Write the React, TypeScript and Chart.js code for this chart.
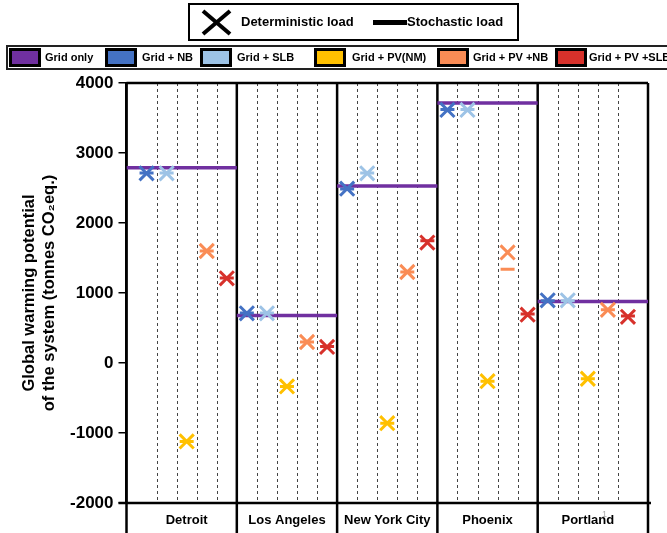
import React, { useEffect, useRef } from 'react';
import { Chart, registerables } from 'chart.js';

Chart.register(...registerables);

const cities = ['Detroit', 'Los Angeles', 'New York City', 'Phoenix', 'Portland'];
const yTickValues = [-2000, -1000, 0, 1000, 2000, 3000, 4000];

// Grid only (stochastic load, drawn as a line across each city)
const gridOnlyStochastic = [2790, 680, 2530, 3715, 880];

// Deterministic load (X markers)
const nbDeterministic = [2710, 710, 2490, 3615, 895];
const slbDeterministic = [2710, 710, 2710, 3615, 895];
const pvDeterministic = [-1120, -335, -860, -260, -225];
const pvNbDeterministic = [1600, 300, 1300, 1580, 760];
const pvSlbDeterministic = [1210, 230, 1720, 690, 660];

// Stochastic load (short bars)
const nbStochastic = [2715, 715, 2485, 3620, 890];
const slbStochastic = [2715, 715, 2715, 3620, 890];
const pvStochastic = [-1120, -335, -860, -260, -225];
const pvNbStochastic = [1600, 300, 1300, 1340, 760];
const pvSlbStochastic = [1215, 235, 1745, 700, 670];

const seriesNames = ['Grid + NB', 'Grid + SLB', 'Grid + PV(NM)', 'Grid + PV +NB', 'Grid + PV +SLB'];
const seriesColors = ['#4472C4', '#9DC3E6', '#FFC000', '#FA8C55', '#D7312B'];
const gridOnlyColor = '#7030A0';
const deterministicSeries = [nbDeterministic, slbDeterministic, pvDeterministic, pvNbDeterministic, pvSlbDeterministic];
const stochasticSeries = [nbStochastic, slbStochastic, pvStochastic, pvNbStochastic, pvSlbStochastic];

const X_MIN = -0.1;
const X_MAX = 5.1;
const SLOTS = 5;

const FONT = "'Liberation Sans', Arial, Helvetica, sans-serif";

const framePlugin = {
  id: 'framePlugin',
  beforeDatasetsDraw(chart: any) {
    const { ctx, chartArea: a, scales } = chart;
    const x = scales.x;
    const H = chart.height;
    ctx.save();
    // dashed slot dividers
    ctx.setLineDash([3, 3]);
    ctx.lineWidth = 1;
    ctx.strokeStyle = '#444';
    cities.forEach((_, i) => {
      for (let k = 1; k < SLOTS; k++) {
        const px = Math.round(x.getPixelForValue(i + k / SLOTS)) + 0.5;
        ctx.beginPath();
        ctx.moveTo(px, a.top);
        ctx.lineTo(px, a.bottom);
        ctx.stroke();
      }
    });
    ctx.setLineDash([]);
    ctx.strokeStyle = '#000';
    ctx.lineWidth = 2.5;
    const verts = [a.left, ...cities.slice(1).map((_, i) => x.getPixelForValue(i + 1)), a.right];
    verts.forEach((px) => {
      ctx.beginPath();
      ctx.moveTo(px, a.top);
      ctx.lineTo(px, H);
      ctx.stroke();
    });
    ctx.beginPath();
    ctx.moveTo(a.left, a.top);
    ctx.lineTo(a.right, a.top);
    ctx.stroke();
    ctx.beginPath();
    ctx.moveTo(a.left - 8, a.bottom);
    ctx.lineTo(a.right + 3, a.bottom);
    ctx.stroke();
    ctx.restore();
  },
};

function Txt(props: { x: number; cy: number; size: number; text: string; color?: string; weight?: string }) {
  return (
    <div
      style={{
        position: 'absolute',
        left: props.x,
        top: props.cy - 10,
        height: 20,
        lineHeight: '20px',
        fontSize: props.size,
        fontFamily: FONT,
        fontWeight: (props.weight || 'bold') as any,
        color: props.color || '#000',
        whiteSpace: 'nowrap',
      }}
    >
      {props.text}
    </div>
  );
}

const legendSquareX = [9, 105, 200, 314, 437, 555];
const legendLabelX = [45, 142, 237, 352, 473, 589];

export default function App() {
  const ref = useRef<HTMLCanvasElement | null>(null);

  useEffect(() => {
    if (!ref.current) return;
    const slotX = (i: number, k: number) => i + (k + 0.5) / SLOTS;

    const gridOnlyData: any[] = [];
    cities.forEach((_, i) => {
      const start = i === 0 ? X_MIN : i;
      const end = i === cities.length - 1 ? X_MAX : i + 1;
      gridOnlyData.push({ x: start, y: gridOnlyStochastic[i] });
      gridOnlyData.push({ x: end, y: gridOnlyStochastic[i] });
      gridOnlyData.push({ x: end, y: null });
    });

    const datasets: any[] = [];
    seriesNames.forEach((name, k) => {
      datasets.push({
        type: 'scatter',
        label: name + ' deterministic',
        data: cities.map((_, i) => ({ x: slotX(i, k), y: deterministicSeries[k][i] })),
        pointStyle: 'crossRot',
        pointRadius: 10,
        pointBorderWidth: 3,
        borderColor: seriesColors[k],
        backgroundColor: seriesColors[k],
        order: 1,
      });
      datasets.push({
        type: 'scatter',
        label: name + ' stochastic',
        data: cities.map((_, i) => ({ x: slotX(i, k), y: stochasticSeries[k][i] })),
        pointStyle: 'line',
        pointRadius: 7,
        pointBorderWidth: 3,
        borderColor: seriesColors[k],
        backgroundColor: seriesColors[k],
        order: 2,
      });
    });
    datasets.push({
      type: 'line',
      label: 'Grid only',
      data: gridOnlyData,
      borderColor: gridOnlyColor,
      borderWidth: 3.5,
      pointRadius: 0,
      spanGaps: false,
      order: 10,
    });

    const chart = new Chart(ref.current, {
      type: 'scatter',
      data: { datasets },
      plugins: [framePlugin],
      options: {
        responsive: false,
        animation: false,
        layout: { padding: { top: 83, right: 19, left: 0, bottom: 0 } },
        plugins: { legend: { display: false }, tooltip: { enabled: false } },
        scales: {
          x: {
            type: 'linear',
            min: X_MIN,
            max: X_MAX,
            afterBuildTicks: (scale: any) => {
              scale.ticks = cities.map((_, i) => ({ value: i + 0.5 }));
            },
            afterFit: (scale: any) => {
              scale.height = 30;
            },
            ticks: {
              autoSkip: false,
              maxRotation: 0,
              padding: 10,
              color: '#000',
              font: { family: FONT, size: 13, weight: 'bold' },
              callback: (v: any) => {
                const idx = Math.floor(Number(v));
                return cities[idx] ?? '';
              },
            },
            grid: { display: false, drawTicks: false },
            border: { display: false },
          },
          y: {
            type: 'linear',
            min: yTickValues[0],
            max: yTickValues[yTickValues.length - 1],
            afterBuildTicks: (scale: any) => {
              scale.ticks = yTickValues.map((v) => ({ value: v }));
            },
            afterFit: (scale: any) => {
              scale.width = 126.5;
            },
            ticks: {
              padding: 5,
              color: '#000',
              font: { family: FONT, size: 17, weight: 'bold' },
              callback: (v: any) => String(v),
            },
            grid: {
              drawOnChartArea: false,
              drawTicks: true,
              tickLength: 8,
              color: '#000',
              lineWidth: 1.5,
            },
            border: { display: true, color: '#000', width: 2.5 },
            title: {
              display: true,
              text: ['Global warming potential', 'of the system (tonnes CO₂eq.)'],
              color: '#000',
              font: { family: FONT, size: 16.5, weight: 'bold', lineHeight: 1.2 },
              padding: { top: 20, bottom: 0 },
            },
          },
        },
      } as any,
    });
    return () => chart.destroy();
  }, []);

  return (
    <div style={{ position: 'absolute', left: 0, top: 0, width: 667, height: 533, overflow: 'hidden', background: '#fff' }}>
      <canvas ref={ref} width={667} height={533} style={{ position: 'absolute', left: 0, top: 0 }} />
      {/* top legend */}
      <div
        style={{
          position: 'absolute',
          left: 188,
          top: 3,
          width: 331,
          height: 38,
          border: '2px solid #000',
          boxSizing: 'border-box',
        }}
      />
      <svg style={{ position: 'absolute', left: 201, top: 9 }} width={31} height={27}>
        <line x1={2} y1={2} x2={29} y2={25} stroke="#000" strokeWidth={4} />
        <line x1={29} y1={2} x2={2} y2={25} stroke="#000" strokeWidth={4} />
      </svg>
      <Txt x={241} cy={22} size={13} text="Deterministic load" />
      <div style={{ position: 'absolute', left: 373, top: 20, width: 34, height: 5, background: '#000' }} />
      <Txt x={407} cy={22} size={13} text="Stochastic load" />
      {/* series legend */}
      <div
        style={{
          position: 'absolute',
          left: 6,
          top: 45,
          width: 680,
          height: 25,
          border: '2px solid #222',
          boxSizing: 'border-box',
        }}
      />
      {[gridOnlyColor, ...seriesColors].map((c, i) => (
        <div
          key={'sq' + i}
          style={{
            position: 'absolute',
            left: legendSquareX[i],
            top: 48,
            width: 32,
            height: 19,
            background: c,
            border: '3px solid #000',
            boxSizing: 'border-box',
          }}
        />
      ))}
      {['Grid only', ...seriesNames].map((n, i) => (
        <Txt key={'lb' + i} x={legendLabelX[i]} cy={57} size={11} text={n} />
      ))}
      <Txt x={602} cy={514} size={9} text="1" color="#aaa" weight="normal" />
    </div>
  );
}
